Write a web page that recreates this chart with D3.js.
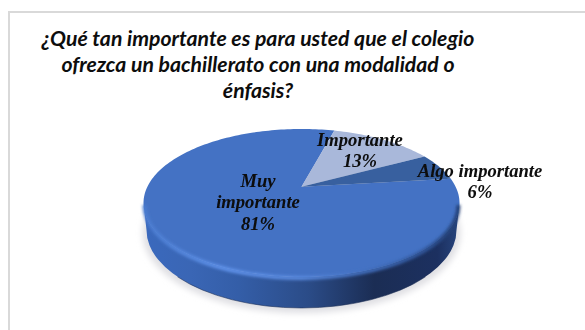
<!DOCTYPE html>
<html lang="es">
<head>
<meta charset="utf-8">
<title>Importancia de la modalidad del bachillerato</title>
<script src="https://cdn.jsdelivr.net/npm/d3@7/dist/d3.min.js"></script>
<style>
  html, body { margin: 0; padding: 0; background: #fff; }
  svg { display: block; }
  .title { font-family: Lato, "Open Sans", sans-serif; font-weight: 700; font-style: italic; font-size: 21.2px; fill: #0d0d0d; }
  .label { font-family: "Liberation Serif", serif; font-weight: 700; font-style: italic; font-size: 18.6px; fill: #0a0a0a; }
</style>
</head>
<body>
<svg id="chart" width="585" height="330"></svg>
<script>
// Survey answers, in percent
const categories = ["Muy importante", "Importante", "Algo importante"];
const percents = [81, 13, 6];
const sliceColors = ["#4472c4", "#a9b8da", "#38609f"];
const titleLines = [
  "¿Qué tan importante es para usted que el colegio",
  "ofrezca un bachillerato con una modalidad o",
  "énfasis?"
];
// Each label is a list of lines plus the centre point of its first baseline
const labelLines = [["Muy", "importante", "81%"], ["Importante", "13%"], ["Algo importante", "6%"]];
const labelAnchors = [[258, 187], [360, 146], [480, 177]];

const W = 585, H = 330;
const cx = 301.5, cy = 203, rx = 158, ry = 74, depth = 27;
const lowerRx = 155, lowerRy = 78;
const tilt = 0.22;               // perspective shift of the pie's centre toward the back
const firstAngle = 83.4 * Math.PI / 180;

const svg = d3.select("#chart").attr("viewBox", [0, 0, W, H]);
const defs = svg.append("defs");

// Perspective plane: takes a point on the unit disc to the tilted ellipse
const xScale = d3.scaleLinear().domain([-1, 1]).range([cx - rx, cx + rx]);
const yScale = d3.scaleLinear().domain([-1, 1]).range([cy + ry, cy - ry]);
const squeeze = Math.sqrt(1 - tilt * tilt);
function project(angle, r) {
  const u = r * Math.sin(angle), v = r * Math.cos(angle);
  const w = 1 + tilt * v;
  return [xScale(u * squeeze / w), yScale((v + tilt) / w)];
}

// Slice angles from the layout, traced through the perspective plane
const arcs = d3.pie().sort(null).value(d => d)
  .startAngle(firstAngle).endAngle(firstAngle + 2 * Math.PI)(percents);

const line = d3.line();
function slicePath(a) {
  const steps = Math.max(8, Math.ceil((a.endAngle - a.startAngle) * 40));
  const pts = [project(0, 0)];
  d3.range(steps + 1).forEach(i => {
    pts.push(project(a.startAngle + (a.endAngle - a.startAngle) * i / steps, 1));
  });
  return line(pts) + "Z";
}

const ellipseAt = (dy, a, b) => `M${cx - a},${cy + dy}A${a},${b} 0 1 0 ${cx + a},${cy + dy}A${a},${b} 0 1 0 ${cx - a},${cy + dy}Z`;
const frontRim = `M${cx - rx},${cy}A${rx},${ry} 0 0 0 ${cx + rx},${cy}L${cx + lowerRx},${cy + depth}A${lowerRx},${lowerRy} 0 0 1 ${cx - lowerRx},${cy + depth}Z`;
const lowerEdge = `M${cx - lowerRx * 0.8},${cy + depth + lowerRy * 0.6}A${lowerRx},${lowerRy} 0 0 0 ${cx + lowerRx * 0.8},${cy + depth + lowerRy * 0.6}`;
const frontEdge = `M${cx - rx + 1},${cy + 2}A${rx - 1},${ry - 1} 0 0 0 ${cx + rx - 1},${cy + 2}`;

// Gradients and blurs for the rim, bevel and ground shadow
const rimGradient = defs.append("linearGradient").attr("id", "rim")
  .attr("gradientUnits", "userSpaceOnUse")
  .attr("x1", cx - rx).attr("x2", cx + rx).attr("y1", 0).attr("y2", 0);
[[0, "#3a69bd"], [0.15, "#3a66b5"], [0.3, "#345ea8"], [0.52, "#2b4c88"], [0.73, "#1b2d54"], [0.93, "#1c3060"], [1, "#27457e"]]
  .forEach(([o, c]) => rimGradient.append("stop").attr("offset", o).attr("stop-color", c));

const bevelGradient = defs.append("linearGradient").attr("id", "bevel")
  .attr("gradientUnits", "userSpaceOnUse")
  .attr("x1", cx - rx).attr("x2", cx + rx).attr("y1", 0).attr("y2", 0);
[[0, "#4a7bcf"], [0.25, "#5f92ea"], [0.5, "#5a8adf"], [0.72, "#3f6cbb"], [0.9, "#2f5598"], [1, "#233f75"]]
  .forEach(([o, c]) => bevelGradient.append("stop").attr("offset", o).attr("stop-color", c));

defs.append("filter").attr("id", "soft").attr("x", "-10%").attr("y", "-20%").attr("width", "120%").attr("height", "140%")
  .append("feGaussianBlur").attr("stdDeviation", 1.6);
defs.append("filter").attr("id", "shadowBlur").attr("x", "-10%").attr("y", "-20%").attr("width", "120%").attr("height", "140%")
  .append("feGaussianBlur").attr("stdDeviation", 3);
defs.append("filter").attr("id", "textSoft")
  .append("feGaussianBlur").attr("stdDeviation", 0.3);

// Chart frame: only the top and left sides are visible
svg.append("path")
  .attr("d", `M9,${H}V12H${W}`)
  .attr("fill", "none").attr("stroke", "#d9d9d9").attr("stroke-width", 2);

// Ground shadow
svg.append("path")
  .attr("d", ellipseAt(depth + 3, rx + 1, lowerRy + 2))
  .attr("fill", "#dfdfe3").attr("filter", "url(#shadowBlur)");

// Pie thickness
svg.append("path").attr("d", frontRim).attr("fill", "url(#rim)");
svg.append("path").attr("d", lowerEdge)
  .attr("fill", "none").attr("stroke", "#1b2d54").attr("stroke-opacity", 0.55);

// Pie top
svg.append("g").selectAll("path").data(arcs).join("path")
  .attr("d", slicePath)
  .attr("fill", (d, i) => sliceColors[i]);

// Lit bevel along the front edge
svg.append("path")
  .attr("d", frontEdge)
  .attr("fill", "none")
  .attr("stroke", "url(#bevel)")
  .attr("stroke-width", 4)
  .attr("filter", "url(#soft)");

// Title
svg.append("text").attr("class", "title").attr("text-anchor", "middle")
  .selectAll("tspan").data(titleLines).join("tspan")
  .attr("x", 258)
  .attr("y", (d, i) => 46 + i * 26)
  .text(d => d);

// Slice labels
const labels = svg.append("g").attr("filter", "url(#textSoft)");
labelLines.forEach((lines, i) => {
  labels.append("text").attr("class", "label").attr("text-anchor", "middle")
    .selectAll("tspan").data(lines).join("tspan")
    .attr("x", labelAnchors[i][0])
    .attr("y", (d, j) => labelAnchors[i][1] + j * 21.3)
    .text(d => d);
});
</script>
</body>
</html>
